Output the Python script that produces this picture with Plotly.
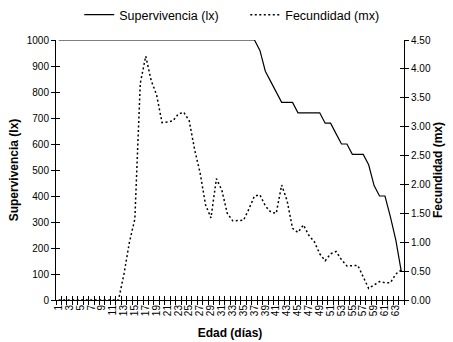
import plotly.graph_objects as go

days = list(range(1, 65))
lx = [1000]*37 + [960, 880, 840, 800, 760, 760, 760,
                  720, 720, 720, 720, 720, 680, 680, 640, 600, 600,
                  560, 560, 560, 520, 440, 400, 400, 320, 230, 110]
mx = [0.0]*12 + [0.45, 1.0, 1.4, 3.75, 4.22, 3.8, 3.55, 3.07, 3.08, 3.1,
                 3.22, 3.25, 3.1, 2.6, 2.2, 1.65, 1.42, 2.1, 1.9, 1.5,
                 1.37, 1.37, 1.38, 1.58, 1.8, 1.82, 1.63, 1.52, 1.5, 1.99,
                 1.72, 1.24, 1.17, 1.3, 1.12, 1.01, 0.8, 0.68, 0.8, 0.84,
                 0.7, 0.59, 0.59, 0.6, 0.4, 0.2, 0.26, 0.32, 0.3, 0.3,
                 0.45, 0.52]
tick_days = [d for d in days if d % 2 == 1]
boundaries = [d + 0.5 for d in range(0, 65)]
left_ticks = list(range(0, 1001, 100))
right_ticks = [i * 0.5 for i in range(10)]

FONT = "Liberation Sans, Arial, sans-serif"
XR = [0.5, 64.5]

fig = go.Figure()
fig.add_trace(go.Scatter(x=days, y=lx, mode="lines", name="Supervivencia (lx)",
                         line=dict(color="black", width=1.2), yaxis="y"))
fig.add_trace(go.Scatter(x=days, y=mx, mode="lines", name="Fecundidad (mx)",
                         line=dict(color="black", width=1.5, dash="2px,2.5px"), yaxis="y2"))
# helper traces for cross tick axes
for xa, ya in [("x2", "y"), ("x3", "y"), ("x", "y3"), ("x", "y4")]:
    fig.add_trace(go.Scatter(x=[None], y=[None], xaxis=xa, yaxis=ya,
                             showlegend=False, hoverinfo="skip"))

common = dict(automargin=False, showgrid=False, zeroline=False)

fig.update_layout(
    width=453, height=342,
    margin=dict(l=56, r=49, t=40, b=42, autoexpand=False),
    paper_bgcolor="white", plot_bgcolor="white",
    font=dict(family=FONT, size=10, color="black"),
    showlegend=True,
    legend=dict(orientation="h", xref="container", yref="container",
                x=0.175, xanchor="left", y=0.956, yanchor="middle",
                font=dict(size=12.5), itemwidth=30, tracegroupgap=0,
                entrywidth=121, entrywidthmode="pixels",
                bgcolor="rgba(0,0,0,0)"),
    xaxis=dict(range=XR, tickmode="array", tickvals=tick_days,
               ticktext=[str(d) for d in tick_days], tickangle=-90,
               ticks="", showline=True, linecolor="black", linewidth=1,
               tickfont=dict(size=10),
               title=dict(text="<b>Edad (días)</b>", font=dict(size=12), standoff=13),
               **common),
    xaxis2=dict(range=XR, overlaying="x", anchor="y", side="bottom",
                tickmode="array", tickvals=boundaries, ticks="outside",
                ticklen=4, tickcolor="black", tickwidth=1,
                showticklabels=False, showline=False, **common),
    xaxis3=dict(range=XR, overlaying="x", anchor="y", side="bottom",
                tickmode="array", tickvals=boundaries, ticks="inside",
                ticklen=4, tickcolor="black", tickwidth=1,
                showticklabels=False, showline=False, **common),
    yaxis=dict(range=[0, 1000], tickmode="array", tickvals=left_ticks,
               ticks="outside", ticklen=4, tickcolor="black",
               showline=True, linecolor="black", linewidth=1,
               title=dict(text="<b>Supervivencia (lx)</b>", font=dict(size=12), standoff=5),
               **common),
    yaxis2=dict(range=[0, 4.5], tickmode="array", tickvals=right_ticks,
                tickformat=".2f", overlaying="y", side="right", anchor="x",
                ticks="outside", ticklen=4, tickcolor="black",
                showline=True, linecolor="black", linewidth=1,
                title=dict(text="<b>Fecundidad (mx)</b>", font=dict(size=12), standoff=2),
                **common),
    yaxis3=dict(range=[0, 1000], tickmode="array", tickvals=left_ticks,
                overlaying="y", side="left", anchor="x",
                ticks="inside", ticklen=4, tickcolor="black",
                showticklabels=False, showline=False, **common),
    yaxis4=dict(range=[0, 4.5], tickmode="array", tickvals=right_ticks,
                overlaying="y", side="right", anchor="x",
                ticks="inside", ticklen=4, tickcolor="black",
                showticklabels=False, showline=False, **common),
)

fig.write_html("out.html", config={"displayModeBar": False},
               post_script="document.body.style.margin='0px';document.body.style.overflow='hidden';")
